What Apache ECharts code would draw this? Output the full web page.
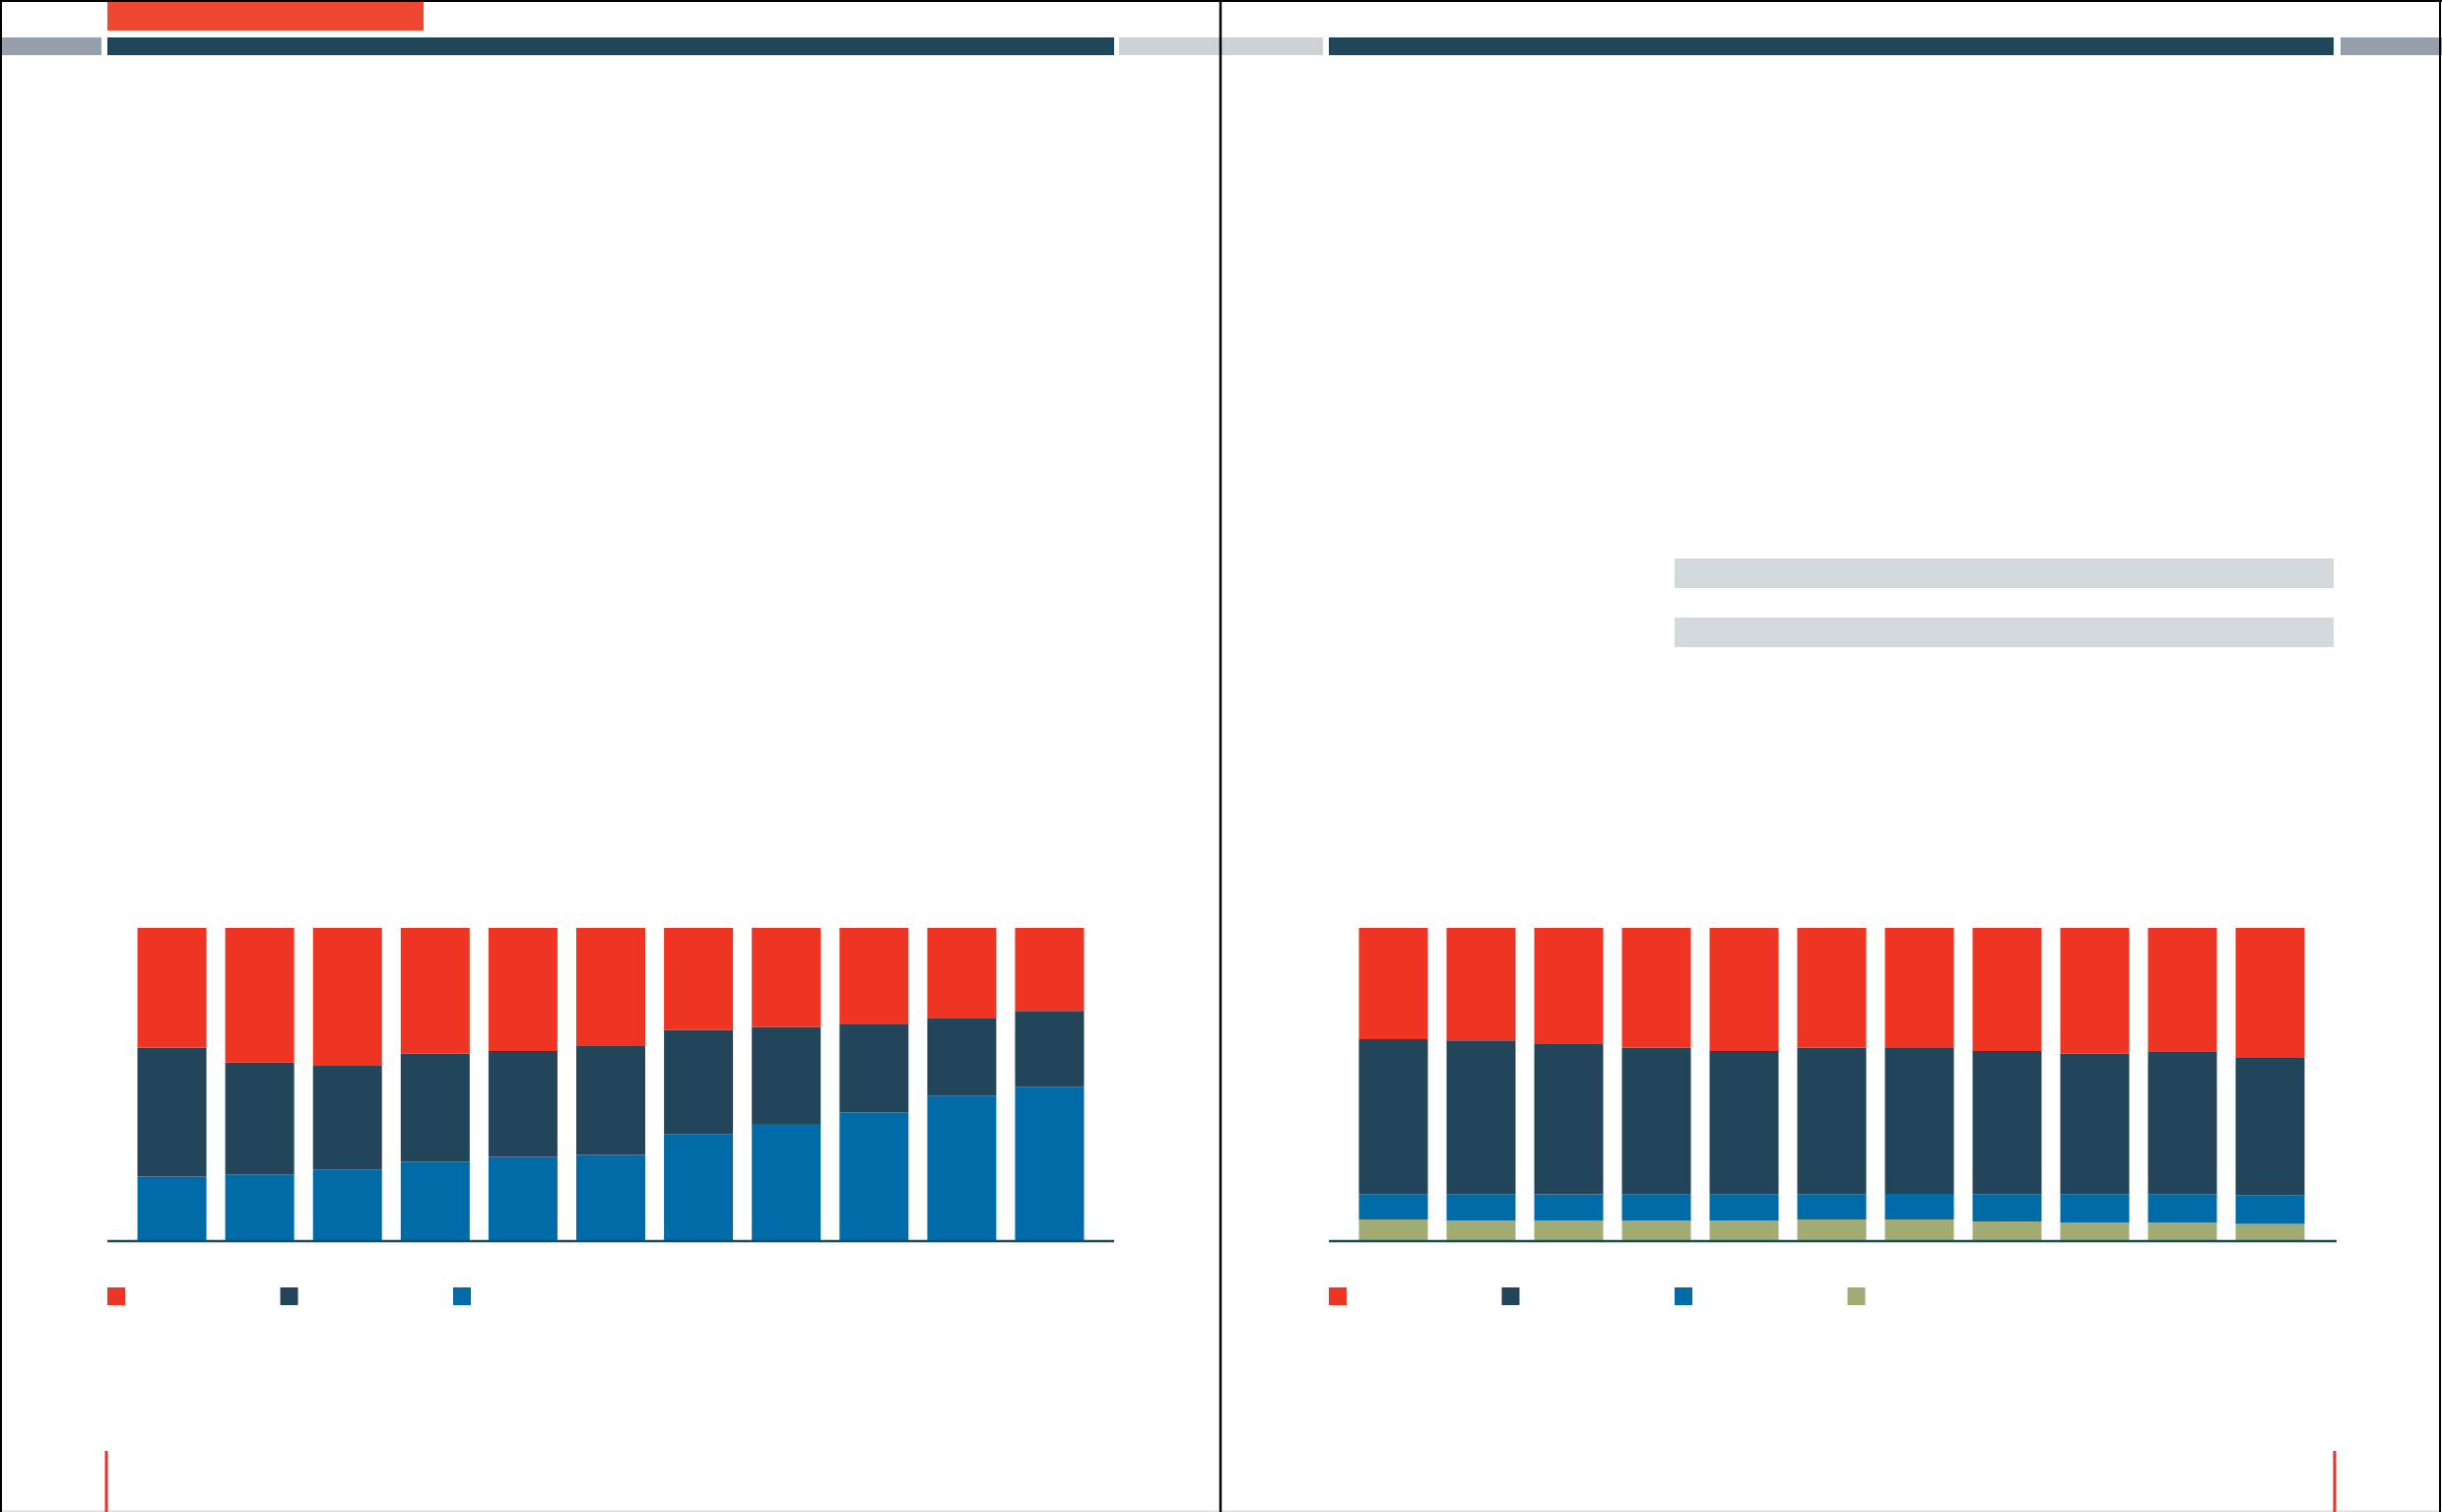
<!DOCTYPE html>
<html>
<head>
<meta charset="utf-8">
<script src="https://cdn.jsdelivr.net/npm/echarts@6/dist/echarts.min.js"></script>
<style>
html,body{margin:0;padding:0;background:#fff;}
#c{width:2479px;height:1535px;}
</style>
</head>
<body>
<div id="c"></div>
<script>
// Categories (11 periods, no labels shown in the reference)
const categories = ['1','2','3','4','5','6','7','8','9','10','11'];

// Left chart (100% stacked), bottom to top
const leftBlue = [20.6, 21.3, 22.9, 25.3, 26.9, 27.5, 34.2, 37.4, 41.0, 46.5, 49.3];
const leftNavy = [41.1, 35.7, 33.3, 34.5, 33.8, 34.8, 33.2, 31.0, 28.4, 24.8, 24.2];
const leftRed  = [38.3, 43.0, 43.8, 40.2, 39.3, 37.7, 32.6, 31.6, 30.6, 28.7, 26.5];

// Right chart (100% stacked), bottom to top
const rightOlive = [6.9, 6.6, 6.6, 6.6, 6.6, 6.9, 6.9, 6.3, 6.0, 6.0, 5.5];
const rightBlue  = [8.1, 8.4, 8.3, 8.4, 8.4, 8.1, 8.2, 8.7, 9.0, 9.0, 9.2];
const rightNavy  = [49.5, 49.1, 48.2, 46.7, 45.7, 46.7, 46.5, 45.7, 44.8, 45.6, 43.8];
const rightRed   = [35.5, 35.9, 36.9, 38.3, 39.3, 38.3, 38.4, 39.3, 40.2, 39.4, 41.5];

const RED = '#ee3524', NAVY = '#22455a', BLUE = '#006ba6', OLIVE = '#a3ab74';

const chart = echarts.init(document.getElementById('c'), null, {renderer: 'canvas'});

function bar(name, data, color, gi, stack) {
  return {
    name: name, type: 'bar', stack: stack, data: data,
    xAxisIndex: gi, yAxisIndex: gi, barWidth: 70,
    itemStyle: {color: color}, silent: true, animation: false
  };
}

const option = {
  backgroundColor: '#ffffff',
  animation: false,
  grid: [
    {left: 130, top: 942, width: 980, height: 318},
    {left: 1370, top: 942, width: 979, height: 318}
  ],
  xAxis: [0, 1].map(i => ({
    type: 'category', gridIndex: i, data: categories,
    axisLine: {show: false}, axisTick: {show: false}, axisLabel: {show: false}, splitLine: {show: false}
  })),
  yAxis: [0, 1].map(i => ({
    type: 'value', gridIndex: i, min: 0, max: 100, show: false
  })),
  legend: [
    {
      data: ['L-red', 'L-navy', 'L-blue'],
      left: 109, top: 1307, padding: 0, itemWidth: 18, itemHeight: 18, itemGap: 157.5,
      icon: 'rect', formatter: () => '', selectedMode: false
    },
    {
      data: ['R-red', 'R-navy', 'R-blue', 'R-olive'],
      left: 1349, top: 1307, padding: 0, itemWidth: 18, itemHeight: 18, itemGap: 157.5,
      icon: 'rect', formatter: () => '', selectedMode: false
    }
  ],
  series: [
    bar('L-blue', leftBlue, BLUE, 0, 'L'),
    bar('L-navy', leftNavy, NAVY, 0, 'L'),
    bar('L-red', leftRed, RED, 0, 'L'),
    bar('R-olive', rightOlive, OLIVE, 1, 'R'),
    bar('R-blue', rightBlue, BLUE, 1, 'R'),
    bar('R-navy', rightNavy, NAVY, 1, 'R'),
    bar('R-red', rightRed, RED, 1, 'R')
  ],
  graphic: [
    // header decorations
    {type: 'rect', shape: {x: 109, y: 0, width: 321, height: 31}, style: {fill: '#f04730'}, silent: true},
    {type: 'rect', shape: {x: 0, y: 38, width: 103, height: 18}, style: {fill: '#95a0ac'}, silent: true},
    {type: 'rect', shape: {x: 109, y: 38, width: 1022, height: 18}, style: {fill: '#1f4559'}, silent: true},
    {type: 'rect', shape: {x: 1136, y: 38, width: 207, height: 18}, style: {fill: '#cdd2d9'}, silent: true},
    {type: 'rect', shape: {x: 1349, y: 38, width: 1020, height: 18}, style: {fill: '#1f4559'}, silent: true},
    {type: 'rect', shape: {x: 2376, y: 38, width: 103, height: 18}, style: {fill: '#95a0ac'}, silent: true},
    // page frame (black top/left/right, faint bottom) and middle fold line
    {type: 'line', shape: {x1: 0, y1: 1, x2: 2479, y2: 1}, style: {stroke: '#000', lineWidth: 2}, silent: true, z: 20},
    {type: 'line', shape: {x1: 1, y1: 0, x2: 1, y2: 1535}, style: {stroke: '#000', lineWidth: 2}, silent: true, z: 20},
    {type: 'line', shape: {x1: 2477, y1: 0, x2: 2477, y2: 1535}, style: {stroke: '#000', lineWidth: 2}, silent: true, z: 20},
    {type: 'line', shape: {x1: 0, y1: 1534, x2: 2479, y2: 1534}, style: {stroke: '#e6e6e6', lineWidth: 2}, silent: true},
    {type: 'line', shape: {x1: 1239, y1: 0, x2: 1239, y2: 1535}, style: {stroke: '#000', lineWidth: 2.5}, silent: true, z: 20},
    // grey placeholder bars on right page
    {type: 'rect', shape: {x: 1700, y: 567, width: 669, height: 30}, style: {fill: '#d2d9dd'}, silent: true},
    {type: 'rect', shape: {x: 1700, y: 627, width: 669, height: 30}, style: {fill: '#d2d9dd'}, silent: true},
    // baselines of the two charts
    {type: 'line', shape: {x1: 109, y1: 1260, x2: 1131, y2: 1260}, style: {stroke: '#1d4a5c', lineWidth: 2.5}, silent: true, z: 10},
    {type: 'line', shape: {x1: 1349, y1: 1260, x2: 2372, y2: 1260}, style: {stroke: '#1d4a5c', lineWidth: 2.5}, silent: true, z: 10},
    // red page markers at bottom
    {type: 'line', shape: {x1: 108, y1: 1473, x2: 108, y2: 1535}, style: {stroke: '#e8312a', lineWidth: 3}, silent: true},
    {type: 'line', shape: {x1: 2370, y1: 1473, x2: 2370, y2: 1535}, style: {stroke: '#e8312a', lineWidth: 3}, silent: true}
  ]
};
chart.setOption(option);
</script>
</body>
</html>
